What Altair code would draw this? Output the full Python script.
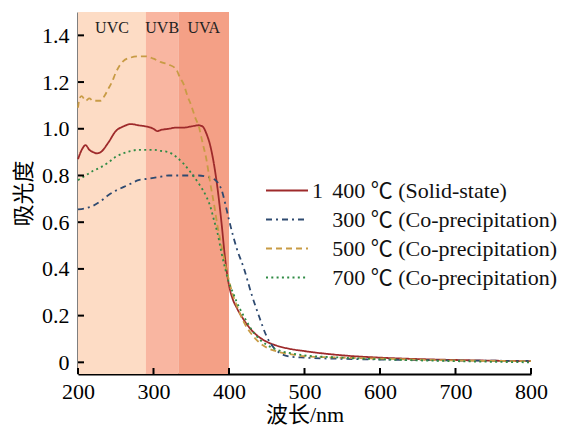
import altair as alt
import pandas as pd

# ---------------- data ----------------
series_names = ["1\u2004\u200a400 \u2103 (Solid-state)",
                "\u200b\u2007\u2004\u200a300 \u2103 (Co-precipitation)",
                "\u200b\u2007\u2004\u200a500 \u2103 (Co-precipitation)",
                "\u200b\u2007\u2004\u200a700 \u2103 (Co-precipitation)"]
series_colors = ["#9E2A2B", "#2E4A70", "#C89B45", "#2F8B45"]
series_dashes = [[1, 0], [6, 4, 2, 4], [6, 4], [2, 3.3]]

wl_1400 = [200, 205, 210, 215, 220, 225, 230, 240, 250, 260, 270, 280, 290, 300, 305, 310, 320, 330,
           340, 350, 360, 365, 370, 375, 380, 385, 390, 395, 400, 405, 410, 420, 430, 440, 450, 460,
           480, 500, 550, 600, 650, 700, 750, 800]
a_1400 = [0.87, 0.91, 0.93, 0.91, 0.90, 0.895, 0.90, 0.94, 0.99, 1.01, 1.02, 1.015, 1.01, 1.0, 0.99,
          0.995, 1.0, 1.005, 1.005, 1.01, 1.015, 1.01, 0.98, 0.93, 0.85, 0.74, 0.60, 0.44, 0.33, 0.27,
          0.235, 0.18, 0.137, 0.108, 0.088, 0.075, 0.058, 0.048, 0.03, 0.02, 0.014, 0.01, 0.007, 0.005]

wl_300 = [200, 210, 220, 230, 240, 250, 260, 270, 280, 290, 300, 310, 320, 330, 340, 350, 360, 370,
          380, 385, 390, 395, 400, 410, 420, 430, 440, 450, 460, 470, 480, 500, 550, 600, 700, 800]
a_300 = [0.655, 0.66, 0.67, 0.69, 0.715, 0.735, 0.75, 0.765, 0.78, 0.785, 0.79, 0.795, 0.80, 0.80,
         0.80, 0.80, 0.80, 0.795, 0.785, 0.77, 0.74, 0.68, 0.61, 0.49, 0.40, 0.29, 0.195, 0.11, 0.06,
         0.035, 0.025, 0.02, 0.015, 0.012, 0.008, 0.006]

wl_500 = [200, 202, 205, 210, 215, 220, 225, 230, 235, 240, 245, 250, 255, 260, 270, 280, 290, 300,
          310, 320, 330, 335, 340, 345, 350, 355, 360, 365, 370, 375, 380, 385, 390, 395, 400, 405,
          410, 420, 430, 440, 450, 460, 480, 500, 550, 600, 700, 800]
a_500 = [1.09, 1.13, 1.14, 1.12, 1.13, 1.12, 1.12, 1.12, 1.14, 1.17, 1.20, 1.24, 1.27, 1.29, 1.305,
         1.31, 1.31, 1.30, 1.285, 1.275, 1.255, 1.22, 1.19, 1.14, 1.10, 1.05, 1.01, 0.94, 0.87, 0.77,
         0.68, 0.58, 0.50, 0.42, 0.35, 0.29, 0.245, 0.17, 0.12, 0.085, 0.063, 0.05, 0.035, 0.026,
         0.02, 0.016, 0.008, 0.005]

wl_700 = [200, 210, 220, 230, 240, 250, 260, 270, 280, 290, 300, 310, 320, 330, 340, 350, 360, 365,
          370, 375, 380, 385, 390, 395, 400, 405, 410, 420, 430, 440, 450, 460, 470, 480, 500, 550,
          600, 700, 800]
a_700 = [0.78, 0.80, 0.82, 0.835, 0.855, 0.88, 0.895, 0.905, 0.91, 0.91, 0.91, 0.905, 0.90, 0.88,
         0.85, 0.81, 0.765, 0.74, 0.71, 0.67, 0.61, 0.55, 0.47, 0.40, 0.34, 0.30, 0.26, 0.195, 0.14,
         0.10, 0.075, 0.058, 0.047, 0.04, 0.03, 0.02, 0.013, 0.005, 0.0]

band_names = ["UVC", "UVB", "UVA"]
band_start = [200, 290, 333]
band_end = [290, 333, 400]
band_colors = ["#FDDCC5", "#F9B6A1", "#F4A086"]
band_label_y = [1.43, 1.43, 1.43]

x_ticks = [200, 300, 400, 500, 600, 700, 800]
y_ticks = [0, 0.2, 0.4, 0.6, 0.8, 1.0, 1.2, 1.4]

# ---------------- tables ----------------
rows = []
for name, wl, av in zip(series_names, [wl_1400, wl_300, wl_500, wl_700], [a_1400, a_300, a_500, a_700]):
    rows += [{"series": name, "wl": w, "A": a} for w, a in zip(wl, av)]
df = pd.DataFrame(rows)

bands = pd.DataFrame({"band": band_names, "start": band_start, "end": band_end,
                      "color": band_colors, "ly": band_label_y})
bands["mid"] = (bands["start"] + bands["end"]) / 2

xt = pd.DataFrame({"t": x_ticks})
yt = pd.DataFrame({"t": y_ticks})

W, H = 453, 362
SERIF = "Liberation Serif"
MIXED = "Liberation Serif, Noto Sans CJK SC"
xscale = alt.Scale(domain=[200, 800], nice=False, zero=False)
yscale = alt.Scale(domain=[-0.05, 1.5], nice=False, zero=False)

xaxis = alt.Axis(orient="bottom", values=x_ticks, ticks=False, tickSize=0, labelPadding=7,
                 labelFlush=False, title="波长/nm", titlePadding=2, grid=False)
yaxis = alt.Axis(orient="left", values=y_ticks, ticks=False, tickSize=0, labelPadding=9,
                 labelFlush=False, labelExpr="datum.value == 0 ? '0' : format(datum.value, '.1f')",
                 title="吸光度", titlePadding=6, grid=False)

rect = alt.Chart(bands).mark_rect().encode(
    x=alt.X("start:Q", scale=xscale, axis=xaxis),
    x2="end:Q",
    y=alt.value(0), y2=alt.value(H),
    fill=alt.Fill("color:N", scale=None, legend=None),
)

band_text = alt.Chart(bands).mark_text(font=SERIF, fontSize=16, color="#222222", baseline="middle").encode(
    x=alt.X("mid:Q", scale=xscale, axis=xaxis),
    y=alt.Y("ly:Q", scale=yscale, axis=yaxis),
    text="band:N",
)

leg = alt.Legend(title=None, orient="none", legendX=187, legendY=164, symbolType="stroke",
                 symbolSize=1764, symbolStrokeWidth=2, clipHeight=29, labelFont=MIXED,
                 labelFontSize=22, labelColor="#111111", labelOffset=3, padding=0, rowPadding=0,
                 labelLimit=400)

lines = alt.Chart(df).mark_line(strokeWidth=1.8, interpolate="monotone").encode(
    x=alt.X("wl:Q", scale=xscale, axis=xaxis),
    y=alt.Y("A:Q", scale=yscale, axis=yaxis),
    stroke=alt.Stroke("series:N", scale=alt.Scale(domain=series_names, range=series_colors), legend=leg),
    strokeDash=alt.StrokeDash("series:N", scale=alt.Scale(domain=series_names, range=series_dashes), legend=leg),
    detail="series:N",
)

# inward tick marks drawn through the scales
xtick_rules = alt.Chart(xt).mark_rule(color="black", strokeWidth=2).encode(
    x=alt.X("t:Q", scale=xscale, axis=xaxis),
    y=alt.value(H), y2=alt.value(H - 6),
)
ytick_rules = alt.Chart(yt).mark_rule(color="black", strokeWidth=2).encode(
    y=alt.Y("t:Q", scale=yscale, axis=yaxis),
    x=alt.value(0), x2=alt.value(6),
)

chart = alt.layer(rect, band_text, lines, xtick_rules, ytick_rules).properties(
    width=W, height=H, padding={"left": 4, "top": 4, "right": 0, "bottom": 0}
).configure_view(stroke=None).configure_axis(
    labelFont=SERIF, labelFontSize=22, labelColor="black", titleFont=MIXED, titleFontSize=22,
    titleColor="black", titleFontWeight="normal", domainColor="black", domainWidth=2,
).configure_legend(
    labelFont=MIXED, labelFontSize=22, labelColor="#111111", labelLimit=400
)

chart.save("out.html", embed_options={"renderer": "svg", "actions": False})
